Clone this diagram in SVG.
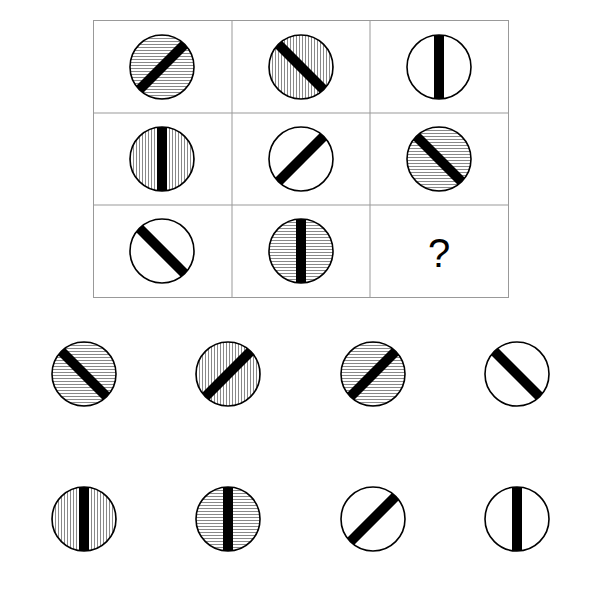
<svg xmlns="http://www.w3.org/2000/svg" xmlns:xlink="http://www.w3.org/1999/xlink" width="600" height="600" viewBox="0 0 600 600">
<style>
.grid{fill:none;stroke:#999;stroke-width:1}
.ring{fill:none;stroke:#000;stroke-width:1.6}
.bar{stroke:#000;stroke-width:10}
.h{fill:url(#hh)}
.v{fill:url(#vv)}
.w{fill:#fff}
.q{font-family:"Liberation Sans",Arial,sans-serif;font-size:40px;fill:#000;text-anchor:middle}
</style>
<defs>
<pattern id="hh" patternUnits="userSpaceOnUse" width="3" height="3"><rect width="3" height="3" fill="#fff"/><line x1="0" y1="1.5" x2="3" y2="1.5" stroke="#888" stroke-width="1"/></pattern>
<pattern id="vv" patternUnits="userSpaceOnUse" width="3" height="3"><rect width="3" height="3" fill="#fff"/><line x1="1.5" y1="0" x2="1.5" y2="3" stroke="#888" stroke-width="1"/></pattern>
<clipPath id="cc"><circle r="32"/></clipPath>
<line id="s" class="bar" x1="-40" y1="40" x2="40" y2="-40" clip-path="url(#cc)"/>
<line id="b" class="bar" x1="-40" y1="-40" x2="40" y2="40" clip-path="url(#cc)"/>
<line id="p" class="bar" x1="0" y1="-40" x2="0" y2="40" clip-path="url(#cc)"/>
</defs>
<g id="grid">
<rect class="grid" x="93.5" y="20.5" width="415" height="277"/>
<line class="grid" x1="232" y1="20" x2="232" y2="297"/>
<line class="grid" x1="370" y1="20" x2="370" y2="297"/>
<line class="grid" x1="93" y1="113" x2="508" y2="113"/>
<line class="grid" x1="93" y1="205" x2="508" y2="205"/>
</g>
<g id="r1c1" transform="translate(162,67)"><circle class="h" r="32"/><use xlink:href="#s"/><circle class="ring" r="32"/></g>
<g id="r1c2" transform="translate(301,67)"><circle class="v" r="32"/><use xlink:href="#b"/><circle class="ring" r="32"/></g>
<g id="r1c3" transform="translate(439,67)"><circle class="w" r="32"/><use xlink:href="#p"/><circle class="ring" r="32"/></g>
<g id="r2c1" transform="translate(162,159)"><circle class="v" r="32"/><use xlink:href="#p"/><circle class="ring" r="32"/></g>
<g id="r2c2" transform="translate(301,159)"><circle class="w" r="32"/><use xlink:href="#s"/><circle class="ring" r="32"/></g>
<g id="r2c3" transform="translate(439,159)"><circle class="h" r="32"/><use xlink:href="#b"/><circle class="ring" r="32"/></g>
<g id="r3c1" transform="translate(162,251)"><circle class="w" r="32"/><use xlink:href="#b"/><circle class="ring" r="32"/></g>
<g id="r3c2" transform="translate(301,251)"><circle class="h" r="32"/><use xlink:href="#p"/><circle class="ring" r="32"/></g>
<g id="r3c3"><text class="q" x="439" y="267">?</text></g>
<g id="o1" transform="translate(84,374)"><circle class="h" r="32"/><use xlink:href="#b"/><circle class="ring" r="32"/></g>
<g id="o2" transform="translate(228,374)"><circle class="v" r="32"/><use xlink:href="#s"/><circle class="ring" r="32"/></g>
<g id="o3" transform="translate(373,374)"><circle class="h" r="32"/><use xlink:href="#s"/><circle class="ring" r="32"/></g>
<g id="o4" transform="translate(517,374)"><circle class="w" r="32"/><use xlink:href="#b"/><circle class="ring" r="32"/></g>
<g id="o5" transform="translate(84,519)"><circle class="v" r="32"/><use xlink:href="#p"/><circle class="ring" r="32"/></g>
<g id="o6" transform="translate(228,519)"><circle class="h" r="32"/><use xlink:href="#p"/><circle class="ring" r="32"/></g>
<g id="o7" transform="translate(373,519)"><circle class="w" r="32"/><use xlink:href="#s"/><circle class="ring" r="32"/></g>
<g id="o8" transform="translate(517,519)"><circle class="w" r="32"/><use xlink:href="#p"/><circle class="ring" r="32"/></g>
</svg>
